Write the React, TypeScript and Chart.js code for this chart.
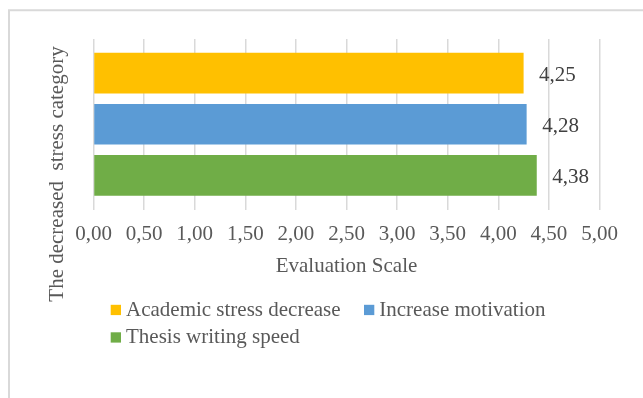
import React, { useEffect, useRef } from "react";
import { Chart, registerables } from "chart.js";

Chart.register(...registerables);

const categories = [""];
const seriesNames = ["Academic stress decrease", "Increase motivation", "Thesis writing speed"];
const seriesValues = [[4.25], [4.28], [4.38]];
const seriesColors = ["#FFC000", "#5B9BD5", "#70AD47"];
const valueLabels = ["4,25", "4,28", "4,38"];
const xTickLabels = ["0,00", "0,50", "1,00", "1,50", "2,00", "2,50", "3,00", "3,50", "4,00", "4,50", "5,00"];
const xTitle = "Evaluation Scale";
const yTitle = "The decreased  stress category";

const FONT = "'Liberation Serif', 'Times New Roman', serif";

const decorPlugin = {
  id: "decor",
  beforeDraw(chart: any) {
    const ctx = chart.ctx;
    ctx.save();
    ctx.fillStyle = "#ffffff";
    ctx.fillRect(0, 0, chart.width, chart.height);
    ctx.strokeStyle = "#D9D9D9";
    ctx.lineWidth = 2;
    ctx.beginPath();
    ctx.moveTo(9, chart.height + 5);
    ctx.lineTo(9, 10.3);
    ctx.lineTo(chart.width + 5, 10.3);
    ctx.stroke();
    ctx.restore();
  },
  afterDatasetsDraw(chart: any) {
    const ctx = chart.ctx;
    ctx.save();
    ctx.font = `21px ${FONT}`;
    ctx.fillStyle = "#404040";
    ctx.textBaseline = "middle";
    ctx.textAlign = "left";
    chart.data.datasets.forEach((ds: any, i: number) => {
      const meta = chart.getDatasetMeta(i);
      const el = meta.data[0];
      if (!el) return;
      ctx.fillText(valueLabels[i], el.x + 15.5, el.y + 2);
    });
    ctx.restore();
  },
  afterDraw(chart: any) {
    const ctx = chart.ctx;
    ctx.save();
    ctx.font = `21px ${FONT}`;
    ctx.fillStyle = "#595959";
    ctx.textAlign = "center";
    ctx.textBaseline = "middle";
    ctx.translate(57, 174);
    ctx.rotate(-Math.PI / 2);
    ctx.fillText(yTitle, 0, 0);
    ctx.restore();

    ctx.save();
    ctx.font = `21px ${FONT}`;
    ctx.textBaseline = "middle";
    ctx.textAlign = "left";
    const positions = [
      { x: 110.7, y: 310 },
      { x: 364, y: 310 },
      { x: 110.7, y: 337.5 },
    ];
    chart.data.datasets.forEach((ds: any, i: number) => {
      const p = positions[i];
      ctx.fillStyle = ds.backgroundColor;
      ctx.fillRect(p.x, p.y - 5.2, 10.3, 10.3);
      ctx.fillStyle = "#595959";
      ctx.fillText(ds.label, p.x + 15.3, p.y);
    });
    ctx.restore();
  },
};

export default function App() {
  const canvasRef = useRef<HTMLCanvasElement | null>(null);

  useEffect(() => {
    if (!canvasRef.current) return;
    const chart = new Chart(canvasRef.current, {
      type: "bar",
      data: {
        labels: categories,
        datasets: seriesNames.map((name, i) => ({
          label: name,
          data: seriesValues[i],
          backgroundColor: seriesColors[i],
          borderWidth: 0,
          categoryPercentage: 0.9,
          barPercentage: 0.795,
        })),
      },
      options: {
        indexAxis: "y",
        responsive: false,
        animation: false,
        events: [],
        layout: {
          padding: { left: 93.5, right: 43.5, top: 39, bottom: 188.5 - 70 },
        },
        plugins: {
          legend: { display: false },
          tooltip: { enabled: false },
          title: { display: false },
        },
        scales: {
          x: {
            type: "linear",
            min: 0,
            max: 5,
            afterFit: (scale: any) => {
              scale.height = 70;
            },
            ticks: {
              stepSize: 0.5,
              padding: 12,
              color: "#595959",
              font: { family: FONT, size: 21 },
              callback: (_v: any, index: number) => xTickLabels[index],
              maxRotation: 0,
              autoSkip: false,
            },
            grid: {
              color: "#D9D9D9",
              lineWidth: 1.5,
              drawTicks: false,
            },
            border: { display: false },
            title: {
              display: true,
              text: xTitle,
              color: "#595959",
              font: { family: FONT, size: 21 },
              padding: { top: 0, bottom: 0 },
            },
          },
          y: {
            type: "category",
            display: false,
            grid: { display: false },
          },
        },
      },
      plugins: [decorPlugin],
    } as any);
    return () => chart.destroy();
  }, []);

  return (
    <div style={{ position: "fixed", left: 0, top: 0, width: 643, height: 398, background: "#fff" }}>
      <canvas ref={canvasRef} width={643} height={398} style={{ width: 643, height: 398, display: "block" }} />
    </div>
  );
}
